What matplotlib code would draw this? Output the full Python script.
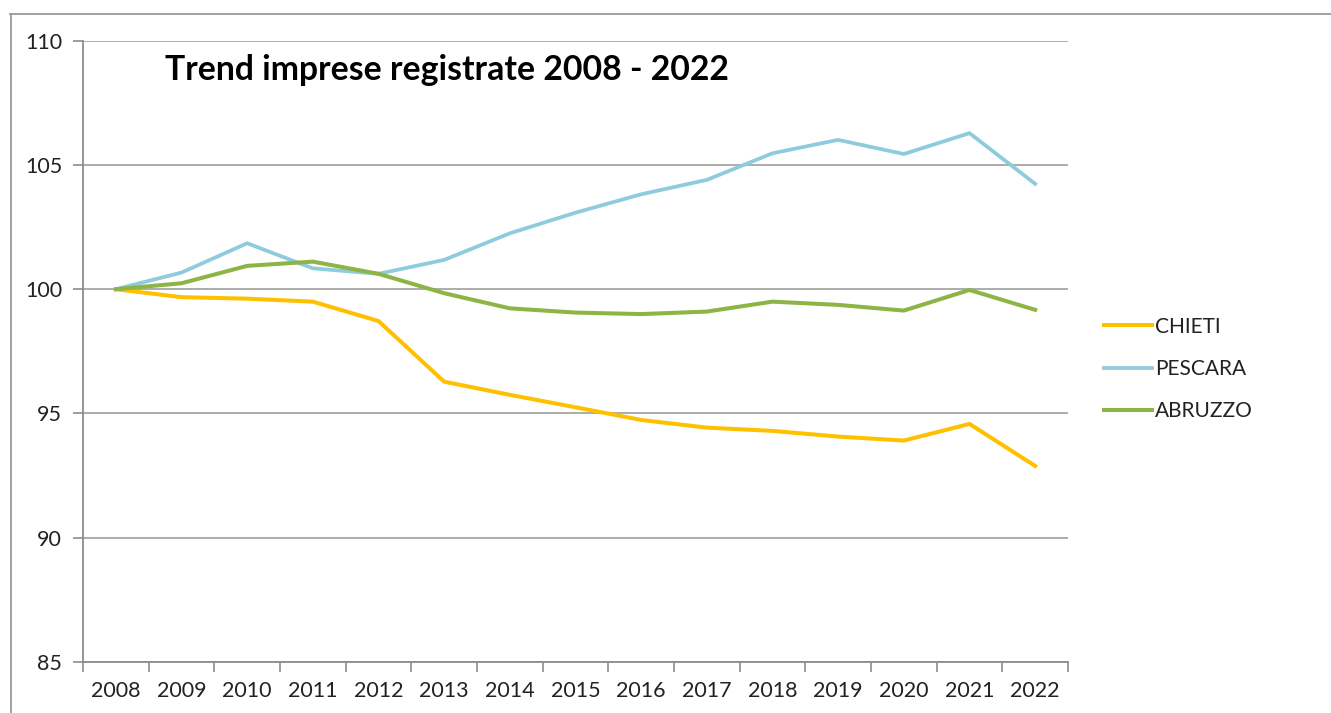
import matplotlib
matplotlib.use("Agg")
import matplotlib.pyplot as plt
from matplotlib.lines import Line2D

plt.rcParams['font.family'] = ['Lato', 'DejaVu Sans']

years = ["2008", "2009", "2010", "2011", "2012", "2013", "2014", "2015",
         "2016", "2017", "2018", "2019", "2020", "2021", "2022"]
chieti = [100.0, 99.68, 99.62, 99.5, 98.72, 96.28, 95.75, 95.25,
          94.74, 94.43, 94.30, 94.07, 93.91, 94.58, 92.89]
pescara = [100.0, 100.67, 101.85, 100.84, 100.62, 101.18, 102.25, 103.08,
           103.82, 104.4, 105.47, 106.01, 105.44, 106.28, 104.24]
abruzzo = [100.0, 100.24, 100.94, 101.11, 100.62, 99.84, 99.23, 99.06,
           99.0, 99.1, 99.5, 99.37, 99.14, 99.97, 99.17]
yticks = [85, 90, 95, 100, 105, 110]

W, H = 1331, 713
fig = plt.figure(figsize=(W / 100, H / 100), dpi=100)
ax = fig.add_axes([83 / W, 1 - 662 / H, (1068 - 83) / W, (662 - 40.7) / H])

x = list(range(len(years)))
ax.plot(x, chieti, color="#FFC000", lw=2.9, label="CHIETI", solid_joinstyle="miter")
ax.plot(x, pescara, color="#8ECBDD", lw=2.7, label="PESCARA", solid_joinstyle="miter")
ax.plot(x, abruzzo, color="#8DB444", lw=2.9, label="ABRUZZO", solid_joinstyle="miter")

ax.set_xlim(-0.5, len(years) - 0.5)
ax.set_ylim(85, 110)
ax.set_yticks(yticks)
ax.set_yticklabels([str(v) for v in yticks])
ax.set_xticks(x)
ax.set_xticklabels(years)
ax.set_xticks([i - 0.5 for i in range(len(years) + 1)], minor=True)

ax.tick_params(axis="x", which="major", length=0, pad=14, labelsize=15.5, colors="#222222")
ax.tick_params(axis="x", which="minor", length=7, width=1.2, color="#8C8C8C")
ax.tick_params(axis="y", length=7, width=1.2, color="#8C8C8C", pad=8, labelsize=15.5,
               labelcolor="#222222")

ax.yaxis.grid(True, color="#A6A6A6", lw=1.3)
ax.set_axisbelow(True)
for s in ["top", "right"]:
    ax.spines[s].set_visible(False)
for s in ["left", "bottom"]:
    ax.spines[s].set_color("#8C8C8C")
    ax.spines[s].set_linewidth(1.3)

fig.text(165 / W, 1 - 80 / H, "Trend imprese registrate 2008 - 2022",
         fontsize=24.3, fontweight="bold", color="black", va="baseline")

fig.legend(loc="upper left", bbox_to_anchor=(1085 / W, 1 - 298 / H), frameon=False,
           fontsize=15, handlelength=2.3, handletextpad=0.15, labelspacing=1.07,
           labelcolor="#222222")

# outer chart frame (top and left edges)
fig.add_artist(Line2D([10 / W, 1], [1 - 14 / H, 1 - 14 / H], color="#9A9A9A", lw=1.3))
fig.add_artist(Line2D([10.5 / W, 10.5 / W], [0, 1 - 14 / H], color="#9A9A9A", lw=1.3))

fig.savefig("out.png", dpi=100)
